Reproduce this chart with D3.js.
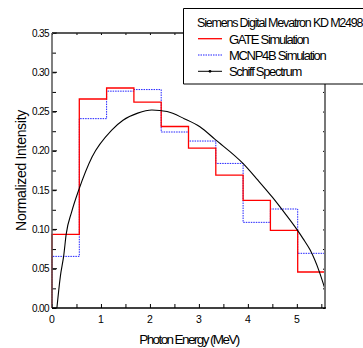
<!DOCTYPE html>
<meta charset="utf-8">
<style>
body { margin: 0; background: #fff; }
text { font-family: "Liberation Sans", Arial, sans-serif; fill: #000; }
</style>
<body>
<div id="chart"></div>
<script src="https://cdnjs.cloudflare.com/ajax/libs/d3/7.8.5/d3.min.js"></script>
<script>

// chart size
var width = 363;
var height = 348;

// Data
var binEdges = [0, 0.5575, 1.115, 1.6725, 2.23, 2.7875, 3.345, 3.9025, 4.46, 5.0175, 5.575];
var gate = [0.0938, 0.266, 0.280, 0.262, 0.231, 0.2036, 0.169, 0.137, 0.0988, 0.0458];
var mcnp = [0.0657, 0.241, 0.276, 0.278, 0.224, 0.2125, 0.184, 0.109, 0.126, 0.0696];

var schiffE = [0.10, 0.17, 0.24, 0.29, 0.40, 0.545, 0.82, 1.22, 1.45, 1.75, 2.04, 2.35, 2.70, 3.02, 3.33, 3.90, 4.20, 4.50, 4.75, 5.00, 5.13, 5.27, 5.46, 5.575];
var schiffI = [0.0, 0.040, 0.067, 0.094, 0.122, 0.150, 0.1925, 0.2265, 0.239, 0.248, 0.252, 0.250, 0.241, 0.2307, 0.2146, 0.184, 0.163, 0.141, 0.121, 0.100, 0.088, 0.074, 0.046, 0.024];

var xTicks = [0, 1, 2, 3, 4, 5];
var yTicks = [0, 0.05, 0.10, 0.15, 0.20, 0.25, 0.30, 0.35];

var legendTitle = "Siemens Digital Mevatron KD M2498";
var seriesNames = ["GATE Simulation", "MCNP4B Simulation", "Schiff Spectrum"];

var svg = d3.select("#chart")
            .append("svg")
            .attr("width", width)
            .attr("height", height);

var x = d3.scaleLinear().domain([0, 5.575]).range([52, 325]);
var y = d3.scaleLinear().domain([0, 0.35]).range([308, 33]);

// step histogram points: start at zero, one step per bin
function steps(vals) {
  var pts = [[binEdges[0], 0]];
  vals.forEach(function(v, i) { pts.push([binEdges[i], v]); });
  pts.push([binEdges[binEdges.length - 1], vals[vals.length - 1]]);
  return pts;
}

var stepLine = d3.line()
                 .x(function(d) { return x(d[0]); })
                 .y(function(d) { return y(d[1]); })
                 .curve(d3.curveStepAfter);

var curveLine = d3.line()
                  .x(function(d) { return x(d[0]); })
                  .y(function(d) { return y(d[1]); })
                  .curve(d3.curveMonotoneX);

// series
svg.append("path")
   .attr("d", stepLine(steps(mcnp)))
   .attr("fill", "none")
   .attr("stroke", "#2020ff")
   .attr("stroke-width", 1)
   .attr("stroke-dasharray", "1.5,1");

svg.append("path")
   .attr("d", stepLine(steps(gate)))
   .attr("fill", "none")
   .attr("stroke", "#ff0000")
   .attr("stroke-width", 1.3);

svg.append("path")
   .attr("d", curveLine(schiffE.map(function(e, i) { return [e, schiffI[i]]; })))
   .attr("fill", "none")
   .attr("stroke", "#000")
   .attr("stroke-width", 1.1);

// axes, ticks pointing inward
var yAxisL = d3.axisRight(y).tickValues(d3.range(0, 0.351, 0.025)).tickSize(4).tickFormat("");
var yAxisR = d3.axisLeft(y).tickValues(d3.range(0, 0.351, 0.025)).tickSize(2).tickFormat("");
var xAxisB = d3.axisTop(x).tickValues(d3.range(0, 5.51, 0.5)).tickSize(4).tickFormat("");
var xAxisT = d3.axisBottom(x).tickValues(d3.range(0, 5.51, 0.5)).tickSize(2).tickFormat("");

function styleAxis(g, col) {
  g.select(".domain").remove();
  g.selectAll("line").attr("stroke", col).attr("stroke-width", 1);
}

svg.append("g").attr("transform", "translate(52,0)").call(yAxisL).call(styleAxis, "#000");
svg.append("g").attr("transform", "translate(325,0)").call(yAxisR).call(styleAxis, "#000");
svg.append("g").attr("transform", "translate(0,308)").call(xAxisB).call(styleAxis, "#000");
svg.append("g").attr("transform", "translate(0,33)").call(xAxisT).call(styleAxis, "#000");

// major ticks slightly longer
svg.append("g").selectAll("line")
   .data(yTicks).enter().append("line")
   .attr("x1", 52).attr("x2", 57)
   .attr("y1", function(d) { return y(d); }).attr("y2", function(d) { return y(d); })
   .attr("stroke", "#000");

// frame
svg.append("line").attr("x1", 52).attr("x2", 325).attr("y1", 33).attr("y2", 33)
   .attr("stroke", "#222").attr("stroke-width", 1.3);
svg.append("line").attr("x1", 325).attr("x2", 325).attr("y1", 33).attr("y2", 308)
   .attr("stroke", "#777").attr("stroke-width", 2);
svg.append("line").attr("x1", 52).attr("x2", 52).attr("y1", 33).attr("y2", 308)
   .attr("stroke", "#555").attr("stroke-width", 1.5);
svg.append("line").attr("x1", 52).attr("x2", 326).attr("y1", 308).attr("y2", 308)
   .attr("stroke", "#000").attr("stroke-width", 1.5);

// tick labels
svg.append("g").selectAll("text")
   .data(yTicks).enter().append("text")
   .attr("x", 49)
   .attr("y", function(d) { return y(d) + 3.5; })
   .attr("text-anchor", "end")
   .attr("font-size", 10)
   .attr("letter-spacing", -0.6)
   .text(function(d) { return d3.format(".2f")(d); });

svg.append("g").selectAll("text")
   .data(xTicks).enter().append("text")
   .attr("x", function(d) { return x(d); })
   .attr("y", 323)
   .attr("text-anchor", "middle")
   .attr("font-size", 10.5)
   .text(function(d) { return d; });

// axis titles
svg.append("text")
   .attr("transform", "translate(26," + ((33 + 308) / 2) + ") rotate(-90)")
   .attr("text-anchor", "middle")
   .attr("font-size", 14)
   .attr("letter-spacing", -0.3)
   .text("Normalized Intensity");

svg.append("text")
   .attr("x", 189)
   .attr("y", 344)
   .attr("text-anchor", "middle")
   .attr("font-size", 13.5)
   .attr("letter-spacing", -1.6)
   .text("Photon Energy (MeV)");

// legend box, open on the right like the original
var legendG = svg.append("g");
legendG.append("rect")
       .attr("x", 183.5).attr("y", 8.5)
       .attr("width", 179).attr("height", 75.5)
       .attr("fill", "#fff");
legendG.append("path")
       .attr("d", "M363,8.5H183.5V84H363")
       .attr("fill", "none")
       .attr("stroke", "#000")
       .attr("stroke-width", 1);

legendG.append("text")
       .attr("x", 197).attr("y", 27)
       .attr("font-size", 12.5)
       .attr("letter-spacing", -1.2)
       .text(legendTitle);

var legendCols = ["#ff0000", "#2020ff", "#000"];
var legendDash = [null, "1.5,1", null];

seriesNames.forEach(function(name, i) {
  var ly = 38.7 + i * 16.3;
  legendG.append("line")
         .attr("x1", 198).attr("x2", 222)
         .attr("y1", ly).attr("y2", ly)
         .attr("stroke", legendCols[i])
         .attr("stroke-width", i == 0 ? 1.3 : 1)
         .attr("stroke-dasharray", legendDash[i]);
  legendG.append("text")
         .attr("x", 229).attr("y", ly + 5)
         .attr("font-size", 13)
         .attr("letter-spacing", -1.3)
         .text(name);
});

legendG.append("circle")
       .attr("cx", 210).attr("cy", 38.7 + 2 * 16.3)
       .attr("r", 1.4)
       .attr("fill", "#000");

</script>
